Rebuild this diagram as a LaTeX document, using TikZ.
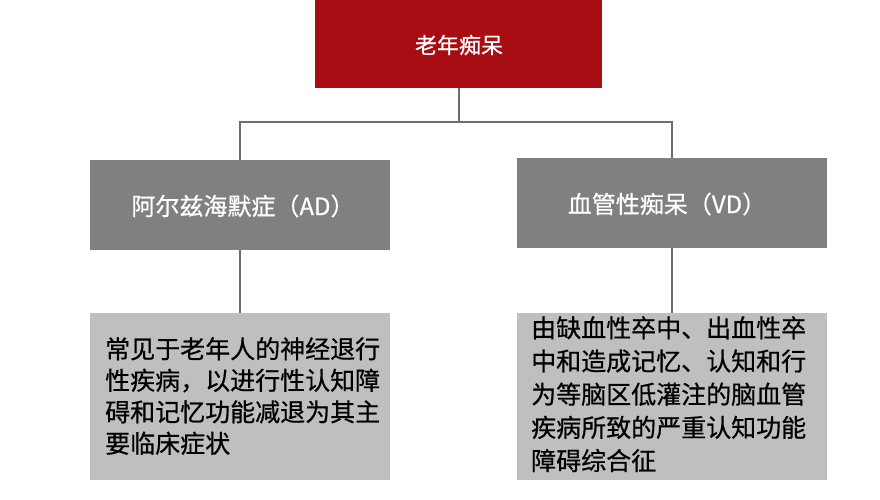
\documentclass[tikz,border=0pt]{standalone}
\usepackage{fontspec}
\setmainfont{Noto Sans CJK SC}[FakeBold=0.6]
\begin{document}
\begin{tikzpicture}[x=1pt,y=-1pt,
  top/.style={fill={rgb,255:red,168;green,13;blue,20},draw=none},
  mid/.style={fill={rgb,255:red,128;green,128;blue,128},draw=none},
  low/.style={fill={rgb,255:red,191;green,191;blue,191},draw=none},
  wtxt/.style={text=white,inner sep=0pt},
  btxt/.style={anchor=north west,align=left,inner sep=0pt,text=black},
  conn/.style={draw={rgb,255:red,110;green,110;blue,110},line width=1.6pt}]
\useasboundingbox (0,0) rectangle (880,500);
\fill[top] (315,0) rectangle (602,88);
\node[wtxt,font=\fontsize{22}{25}\selectfont] (t) at (459,45) {老年痴呆};
\coordinate (tb) at (459,88);
\fill[mid] (90,160) rectangle (390,250);
\node[wtxt,font=\fontsize{24}{27}\selectfont] (l) at (243,206) {阿尔兹海默症（AD）};
\fill[mid] (517,158) rectangle (827,248);
\node[wtxt,font=\fontsize{24}{27}\selectfont] (r) at (667,204) {血管性痴呆（VD）};
\coordinate (lt) at (240,160); \coordinate (rt) at (672,158);
\coordinate (lb) at (240,250); \coordinate (rb) at (672,248);
\fill[low] (90,313) rectangle (390,480);
\fill[low] (517,313) rectangle (827,480);
\coordinate (lbt) at (240,313); \coordinate (rbt) at (672,313);
\node[btxt,font=\fontsize{25}{31.5}\selectfont] (lx) at (105,337)
 {常见于老年人的神经退行\\性疾病，以进行性认知障\\碍和记忆功能减退为其主\\要临床症状};
\node[btxt,font=\fontsize{25}{33.2}\selectfont] (rx) at (531,316)
 {由缺血性卒中、出血性卒\\中和造成记忆、认知和行\\为等脑区低灌注的脑血管\\疾病所致的严重认知功能\\障碍综合征};
\draw[conn] (tb) -- (459,122) -| (lt);
\draw[conn] (459,122) -| (rt);
\draw[conn] (lb) -- (lbt);
\draw[conn] (rb) -- (rbt);
\end{tikzpicture}
\end{document}
